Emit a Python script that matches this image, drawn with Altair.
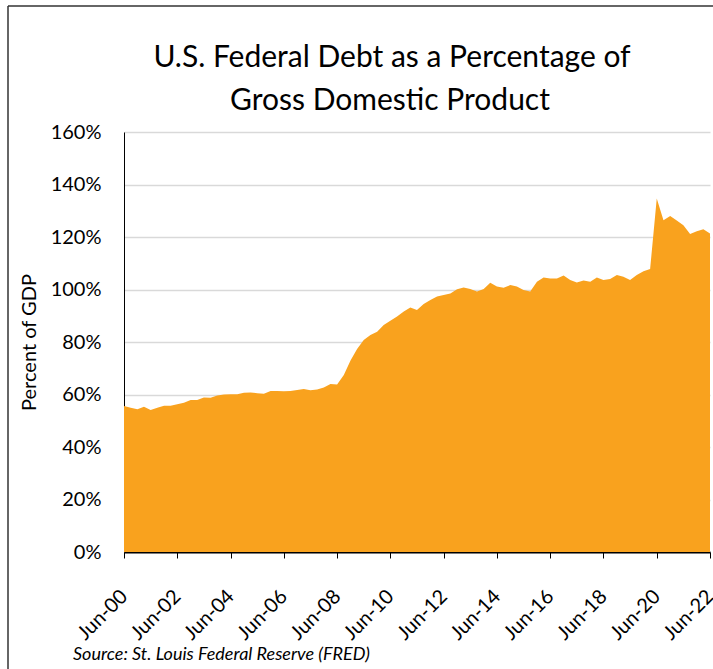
import altair as alt
import pandas as pd

# Quarterly debt-to-GDP (%) Jun-2000 .. Jun-2022 (quarter ends)
years = list(range(2000, 2023))
quarter_months = [3, 6, 9, 12]
debt_pct = [
    55.6, 55.0, 54.4,
    55.3, 54.1, 55.0, 55.7,
    55.7, 56.3, 56.9, 57.9,
    57.9, 58.9, 58.8, 59.6,
    60.0, 60.1, 60.1, 60.7,
    60.8, 60.5, 60.3, 61.3,
    61.3, 61.2, 61.3, 61.7,
    62.1, 61.6, 61.9, 62.7,
    64.0, 63.8, 67.4, 73.0,
    77.3, 80.8, 82.7, 83.9,
    86.5, 88.1, 89.7, 91.6,
    93.1, 92.2, 94.5, 96.0,
    97.3, 97.9, 98.5, 100.1,
    100.8, 100.2, 99.2, 100.2,
    102.6, 101.1, 100.7, 101.7,
    101.1, 99.8, 99.2, 103.0,
    104.6, 104.2, 104.2, 105.3,
    103.6, 102.7, 103.4, 103.0,
    104.6, 103.6, 104.0, 105.5,
    104.9, 103.6, 105.5, 107.0,
    107.8, 134.7, 126.4, 128.0,
    126.3, 124.5, 121.1, 122.2,
    123.0, 121.3,
]
month_end = {3: 31, 6: 30, 9: 30, 12: 31}
dates = []
for y in years:
    for m in quarter_months:
        if (y == 2000 and m < 6) or (y == 2022 and m > 6):
            continue
        dates.append(f"{y}-{m:02d}-{month_end[m]}")

tick_years = list(range(2000, 2023, 2))
y_ticks = [0, 20, 40, 60, 80, 100, 120, 140, 160]

title_lines = ["U.S. Federal Debt as a Percentage of", "Gross Domestic Product"]
y_title = "Percent of GDP"
source_text = "Source:  St. Louis Federal Reserve (FRED)"

df = pd.DataFrame({"date": dates, "debt": debt_pct})

FONT = "Lato"
ORANGE = "#F9A21E"

x_enc = alt.X(
    "date:T",
    scale=alt.Scale(
        type="utc",
        domain=[alt.DateTime(year=2000, month=6, date=30, utc=True),
                alt.DateTime(year=2022, month=6, date=30, utc=True)],
        nice=False,
    ),
    axis=alt.Axis(
        title=None,
        values=[alt.DateTime(year=y, month=6, date=30, utc=True) for y in tick_years],
        format="%b-%y",
        labelAngle=315,
        labelAlign="right",
        labelBaseline="middle",
        labelPadding=35,
        labelFontSize=20,
        labelFont=FONT,
        labelColor="#000000",
        tickSize=6,
        tickColor="#000000",
        tickWidth=1,
        domainColor="#000000",
        domainWidth=2,
        grid=False,
        labelOverlap=False,
        labelFlush=False,
    ),
)

y_enc = alt.Y(
    "debt:Q",
    scale=alt.Scale(domain=[0, 160], nice=False),
    axis=alt.Axis(
        title=y_title,
        values=y_ticks,
        labelExpr="datum.value + '%'",
        labelFontSize=20,
        labelFont=FONT,
        labelColor="#000000",
        labelPadding=23,
        ticks=False,
        domainColor="#000000",
        domainWidth=1,
        gridColor="#D9D9D9",
        gridWidth=1.5,
        titleFont=FONT,
        titleFontSize=20,
        titleFontWeight="normal",
        titleColor="#000000",
        titleX=-95,
        titleY=210,
        titleAngle=270,
        titleBaseline="middle",
        titleAlign="center",
    ),
)

area = alt.Chart(df).mark_area(color=ORANGE, interpolate="linear", opacity=1).encode(
    x=x_enc, y=y_enc
)

one = pd.DataFrame({"t": [source_text], "t1": [title_lines[0]], "t2": [title_lines[1]]})
source = alt.Chart(one).mark_text(
    font=FONT, fontSize=18, fontStyle="italic", align="left", baseline="middle",
    color="#000000",
).encode(x=alt.value(-51), y=alt.value(523), text="t:N")

title1 = alt.Chart(one).mark_text(
    font=FONT, fontSize=30, align="center", baseline="middle", color="#000000",
).encode(x=alt.value(268), y=alt.value(-74), text="t1:N")
title2 = alt.Chart(one).mark_text(
    font=FONT, fontSize=30, align="center", baseline="middle", color="#000000",
).encode(x=alt.value(266), y=alt.value(-31), text="t2:N")

frame_left = alt.Chart(one).mark_rule(color="#333333", strokeWidth=1.5).encode(
    x=alt.value(-116), y=alt.value(-126), y2=alt.value(540)
)
frame_top = alt.Chart(one).mark_rule(color="#333333", strokeWidth=1.5).encode(
    x=alt.value(-116), x2=alt.value(592), y=alt.value(-126)
)

chart = alt.layer(area, source, title1, title2, frame_left, frame_top).properties(
    width=586,
    height=420,
    autosize=alt.AutoSizeParams(type="none"),
    padding={"left": 124, "top": 132, "right": 3, "bottom": 117},
    background="#FFFFFF",
).configure_view(stroke=None)

chart.save("out.html", embed_options={"renderer": "svg", "actions": False})
